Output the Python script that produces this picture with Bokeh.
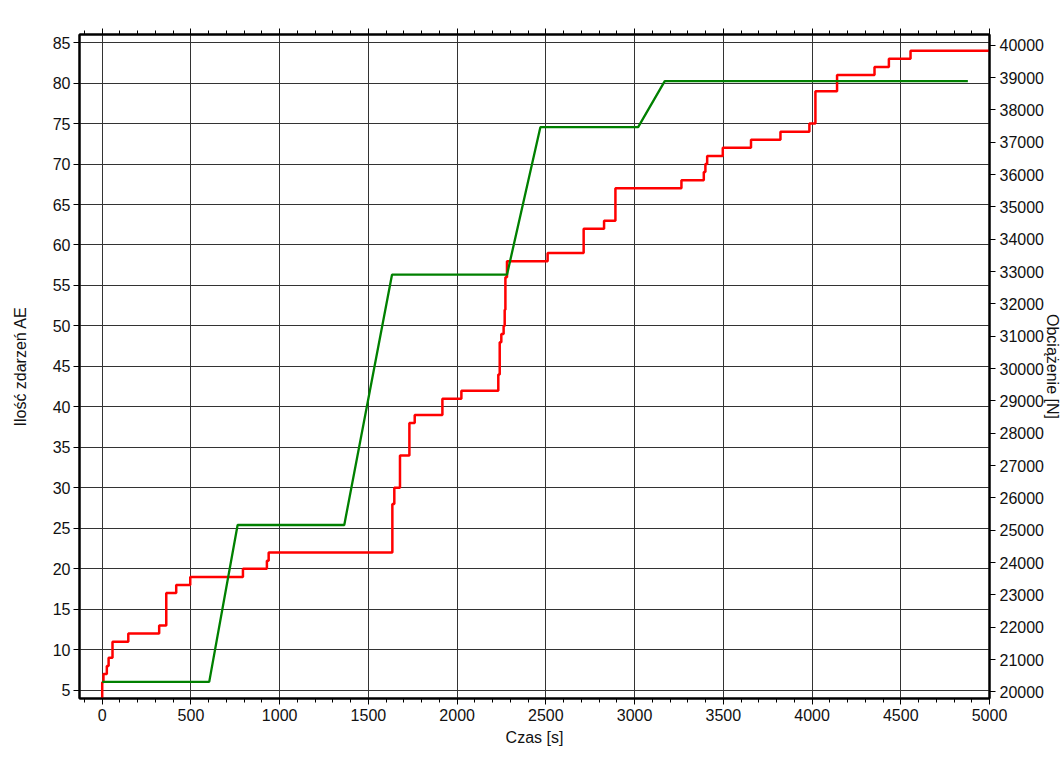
from bokeh.plotting import figure
from bokeh.models import LinearAxis, Range1d, SingleIntervalTicker
from bokeh.embed import file_html
from bokeh.resources import INLINE

# --- data ---
# AE event count (left axis), cumulative step series
time_ae = [0, 0, 7, 26, 36, 58, 147, 321, 361, 417, 496, 793, 928, 938,
           1635, 1646, 1678, 1731, 1761, 1917, 2024, 2232, 2240, 2249, 2262,
           2268, 2272, 2281, 2510, 2713, 2828, 2892, 3264, 3390, 3399, 3409,
           3497, 3656, 3822, 3985, 4019, 4141, 4352, 4433, 4555, 5000]
count_ae = [0, 6, 7, 8, 9, 11, 12, 13, 17, 18, 19, 20, 21, 22,
            28, 30, 34, 38, 39, 41, 42, 44, 48, 49, 50,
            52, 56, 58, 59, 62, 63, 67, 68, 69, 70, 71,
            72, 73, 74, 75, 79, 81, 82, 83, 84, 84]

# Load (right axis) [N]
time_load = [0, 603, 763, 1364, 1633, 2281, 2469, 3020, 3170, 4878]
load_n = [20309, 20309, 25162, 25162, 32903, 32903, 37465, 37465, 38887, 38887]

x_label = "Czas [s]"
y_label = "Ilość zdarzeń AE"
y2_label = "Obciążenie [N]"

FONT = "Liberation Sans"
FS = "16px"

W, H = 1063, 760
BL, BR, BT, BB = 79, 74, 34, 62

p = figure(width=W, height=H,
           x_range=Range1d(-128, 5000), y_range=Range1d(3.98, 86.0),
           output_backend="svg", toolbar_location=None,
           min_border_left=BL, min_border_right=BR,
           min_border_top=BT, min_border_bottom=BB)
p.extra_y_ranges = {"load": Range1d(19796, 40331)}
p.background_fill_color = "white"
p.border_fill_color = "white"
p.outline_line_color = "black"
p.outline_line_width = 2

xt = SingleIntervalTicker(interval=500, num_minor_ticks=5)
yt = SingleIntervalTicker(interval=5, num_minor_ticks=0)
y2t = SingleIntervalTicker(interval=1000, num_minor_ticks=0)

# bottom axis
xa = p.xaxis[0]
xa.ticker = xt
xa.axis_label = x_label

# left axis
ya = p.yaxis[0]
ya.ticker = yt
ya.axis_label = y_label

# top axis (ticks only)
top = LinearAxis(ticker=xt)
top.major_label_text_font_size = "1px"
top.major_label_text_color = None
top.major_label_text_alpha = 0
top.major_label_standoff = 0
p.add_layout(top, "above")

# right axis
ra = LinearAxis(y_range_name="load", ticker=y2t, axis_label=y2_label)
p.add_layout(ra, "right")

for ax in [xa, top]:
    ax.major_tick_out = 6
    ax.major_tick_in = 0
    ax.minor_tick_out = 4
    ax.minor_tick_in = 0
    ax.minor_tick_line_color = "black"
for ax in [ya, ra]:
    ax.major_tick_out = 6
    ax.major_tick_in = 0
    ax.minor_tick_line_color = None

for ax in [xa, ya, ra, top]:
    ax.axis_line_color = "black"
    ax.axis_line_width = 2
    ax.major_tick_line_color = "black"
    ax.major_tick_line_width = 1
    ax.minor_tick_line_width = 1
    ax.axis_label_text_font = FONT
    ax.axis_label_text_font_style = "normal"
    ax.axis_label_text_font_size = FS
    ax.axis_label_text_color = "#111111"

for ax in [xa, ya, ra]:
    ax.major_label_text_font = FONT
    ax.major_label_text_font_size = FS
    ax.major_label_text_color = "#111111"

xa.major_label_standoff = 4
xa.axis_label_standoff = 5
ya.major_label_standoff = 3
ya.axis_label_standoff = 21
ra.major_label_standoff = 4
ra.axis_label_standoff = -3

p.xgrid.ticker = xt
p.ygrid.ticker = yt
p.grid.grid_line_color = "#333333"
p.grid.grid_line_width = 1

p.step(time_ae, count_ae, mode="after", line_color="#ff0000", line_width=2.5)
p.line(time_load, load_n, y_range_name="load", line_color="#008000", line_width=2.3)

open("out.html", "w").write(file_html(p, INLINE))
